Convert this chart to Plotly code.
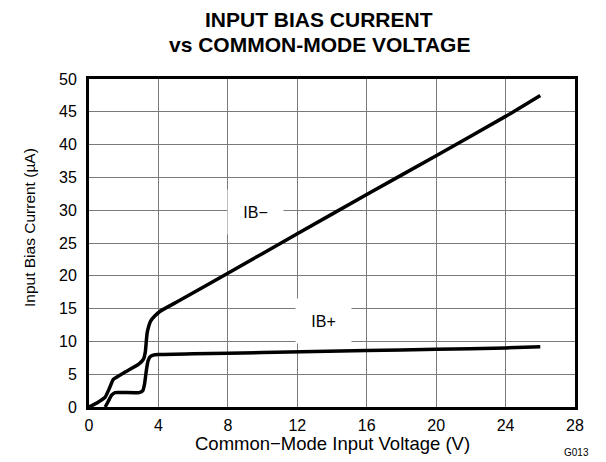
import plotly.graph_objects as go

# Data
ib_minus_v = [0, 0.5, 0.93, 1.2, 1.4, 2.0, 2.85, 3.14, 3.25, 3.3, 3.35, 3.45, 3.55, 3.8, 4.1, 5.26, 8, 12, 16, 20, 24, 26]
ib_minus_i = [0, 0.7, 1.5, 3.0, 4.2, 5.2, 6.5, 7.3, 8.5, 10.0, 11.3, 12.4, 13.1, 13.9, 14.6, 16.3, 20.4, 26.4, 32.4, 38.3, 44.3, 47.5]

ib_plus_v = [0.93, 1.1, 1.3, 1.5, 2.0, 2.9, 3.1, 3.2, 3.3, 3.4, 3.5, 3.7, 4.0, 6, 10, 16, 20, 24, 26]
ib_plus_i = [0, 0.8, 1.8, 2.2, 2.2, 2.2, 2.5, 3.5, 5.5, 7.0, 7.6, 7.9, 8.0, 8.1, 8.3, 8.6, 8.8, 9.0, 9.2]

x_ticks = [0, 4, 8, 12, 16, 20, 24, 28]
y_ticks = [0, 5, 10, 15, 20, 25, 30, 35, 40, 45, 50]

FONT = "Arial, Liberation Sans, sans-serif"

W, H = 606, 462
L, R, T, B = 89, 31, 79, 55
PW, PH = W - L - R, H - T - B

def px(xp):
    return (xp - L) / PW

def py(yp):
    return (H - B - yp) / PH

fig = go.Figure()
fig.add_trace(go.Scatter(x=ib_minus_v, y=ib_minus_i, mode="lines",
                         line=dict(color="black", width=3.5, shape="spline", smoothing=0.4),
                         showlegend=False, hoverinfo="skip"))
fig.add_trace(go.Scatter(x=ib_plus_v, y=ib_plus_i, mode="lines",
                         line=dict(color="black", width=3.5, shape="spline", smoothing=0.4),
                         showlegend=False, hoverinfo="skip"))

fig.update_layout(
    width=W, height=H,
    margin=dict(l=L, r=R, t=T, b=B),
    paper_bgcolor="white", plot_bgcolor="white",
    font=dict(family=FONT, color="black", size=16),
    xaxis=dict(range=[0, 28], tickvals=x_ticks, ticks="", showgrid=True,
               gridcolor="#7a7a7a", gridwidth=1, showline=True, linecolor="black",
               linewidth=3, mirror=True, zeroline=False,
               tickfont=dict(size=16), ticklabelstandoff=2),
    yaxis=dict(range=[0, 50], tickvals=y_ticks, ticks="", showgrid=True,
               gridcolor="#7a7a7a", gridwidth=1, showline=True, linecolor="black",
               linewidth=3, mirror=True, zeroline=False,
               tickfont=dict(size=16), ticklabelstandoff=6),
    annotations=[
        dict(text="<b>INPUT BIAS CURRENT</b>", xref="paper", yref="paper",
             x=px(319), y=py(19), showarrow=False,
             font=dict(size=21), xanchor="center", yanchor="middle"),
        dict(text="<b>vs COMMON-MODE VOLTAGE</b>", xref="paper", yref="paper",
             x=px(319), y=py(45), showarrow=False,
             font=dict(size=21), xanchor="center", yanchor="middle"),
        dict(text="Common\u2212Mode Input Voltage (V)", xref="paper", yref="paper",
             x=px(332), y=py(443), showarrow=False, font=dict(size=18.5),
             xanchor="center", yanchor="middle"),
        dict(text="Input Bias Current (\u00b5A)", xref="paper", yref="paper",
             x=px(29), y=py(228), showarrow=False, font=dict(size=15.5),
             textangle=-90, xanchor="center", yanchor="middle"),
        dict(text="IB\u2212", x=9.6, y=29.7, xref="x", yref="y", showarrow=False,
             font=dict(size=16), bgcolor="white", width=53, height=42),
        dict(text="IB+", x=13.5, y=13.15, xref="x", yref="y", showarrow=False,
             font=dict(size=16), bgcolor="white", width=53, height=42),
        dict(text="G013", xref="paper", yref="paper", x=px(576),
             y=py(453), showarrow=False, font=dict(size=10),
             xanchor="center", yanchor="middle"),
    ],
)

fig.write_html("out.html", config={"displayModeBar": False},
               post_script="document.body.style.margin='0';document.body.style.padding='0';")
